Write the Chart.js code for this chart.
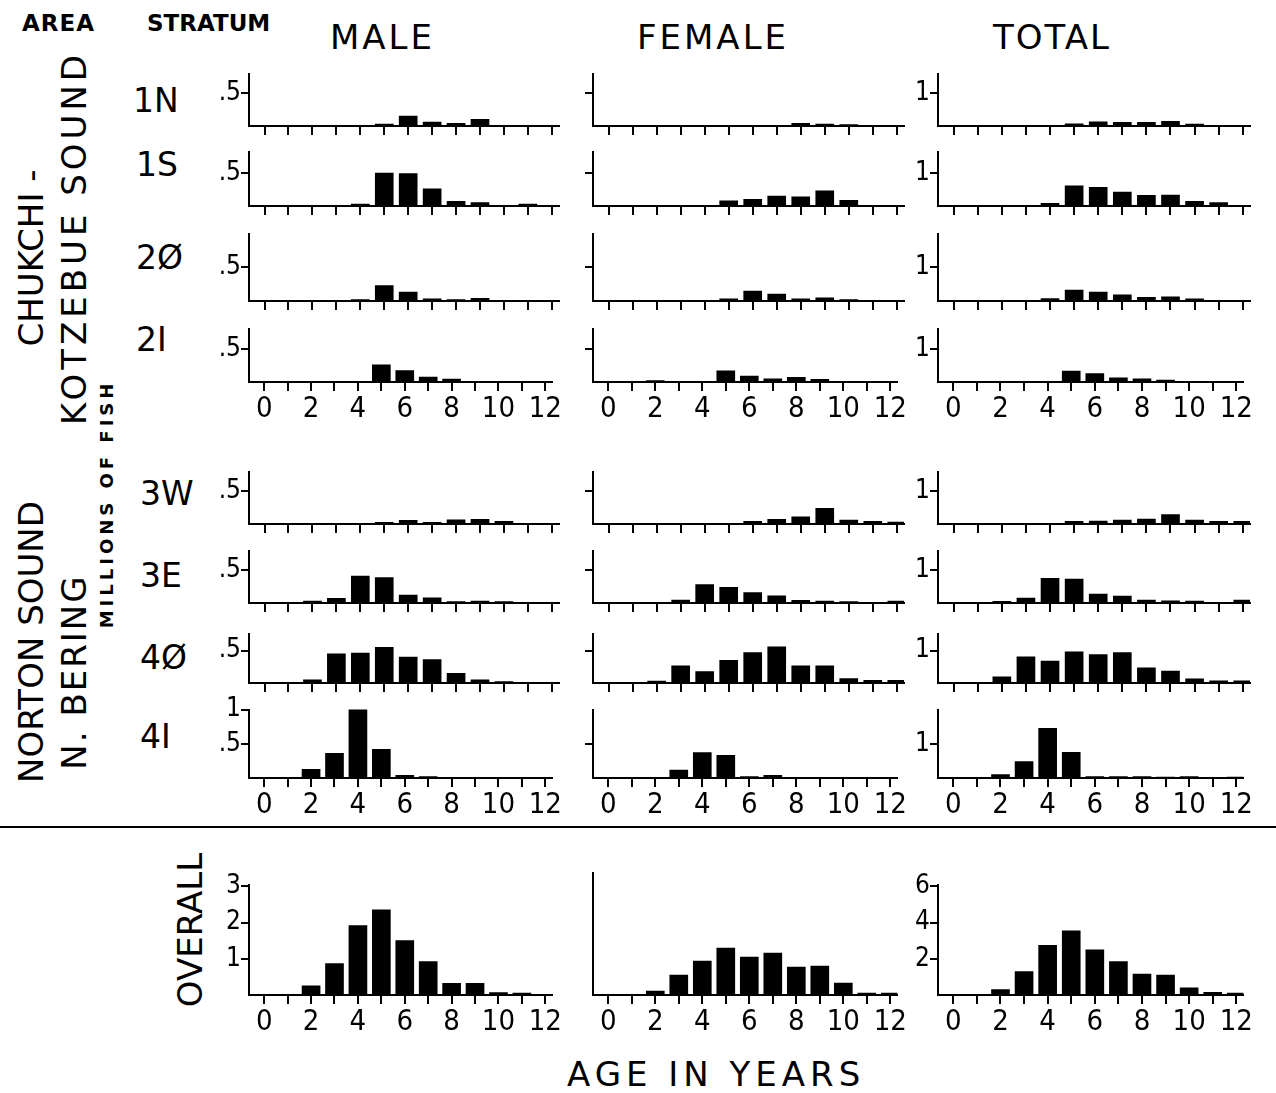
<!DOCTYPE html>
<html>
<head>
<meta charset="utf-8">
<script src="https://cdn.jsdelivr.net/npm/chart.js@4.4.0/dist/chart.umd.min.js"></script>
<style>
  body { margin: 0; background: #fff; width: 1276px; height: 1093px; position: relative; overflow: hidden;
         font-family: 'DejaVu Sans', sans-serif; color: #000; }
  .t { position: absolute; white-space: nowrap; line-height: 1; }
  .v { position: absolute; white-space: nowrap; line-height: 1; transform: translate(-50%, -50%) rotate(-90deg); }
  canvas { position: absolute; }
</style>
</head>
<body>

<div class="t" style="left:22px;top:12px;font-size:23px;font-weight:bold;letter-spacing:1px">AREA</div>
<div class="t" style="left:147px;top:12px;font-size:23px;font-weight:bold;letter-spacing:0px">STRATUM</div>
<div class="t" style="left:330px;top:20px;font-size:34px;letter-spacing:3px">MALE</div>
<div class="t" style="left:637px;top:20px;font-size:34px;letter-spacing:3px">FEMALE</div>
<div class="t" style="left:993px;top:20px;font-size:34px;letter-spacing:2px">TOTAL</div>

<div class="v" style="left:31px;top:258px;font-size:34px">CHUKCHI -</div>
<div class="v" style="left:74px;top:238px;font-size:34px;letter-spacing:4px">KOTZEBUE SOUND</div>
<div class="v" style="left:31px;top:642px;font-size:34px">NORTON SOUND</div>
<div class="v" style="left:74px;top:672px;font-size:34px;letter-spacing:2px">N. BERING</div>
<div class="v" style="left:107px;top:504px;font-size:18px;font-weight:bold;letter-spacing:4px">MILLIONS OF FISH</div>
<div class="v" style="left:190px;top:930px;font-size:34px">OVERALL</div>

<div style="position:absolute;left:0;top:826px;width:1276px;height:2px;background:#000"></div>
<div class="t" style="left:567px;top:1057px;font-size:34px;letter-spacing:5px">AGE IN YEARS</div>

<script>
// ages on the x axis
const ages = [0, 1, 2, 3, 4, 5, 6, 7, 8, 9, 10, 11, 12]

// millions of fish by age
// chukchi - kotzebue sound
const male1N   = [0, 0, 0, 0, 0, 0.03, 0.15, 0.06, 0.04, 0.10, 0, 0, 0.01]
const female1N = [0, 0, 0.01, 0, 0, 0, 0, 0, 0.04, 0.03, 0.02, 0, 0]
const total1N  = [0, 0, 0.01, 0, 0, 0.07, 0.13, 0.11, 0.11, 0.14, 0.06, 0.02, 0.01]

const male1S   = [0, 0, 0, 0, 0.03, 0.50, 0.49, 0.26, 0.07, 0.05, 0, 0.03, 0]
const female1S = [0, 0, 0, 0, 0, 0.08, 0.10, 0.15, 0.14, 0.23, 0.085, 0, 0]
const total1S  = [0, 0, 0, 0, 0.08, 0.61, 0.57, 0.42, 0.32, 0.33, 0.14, 0.10, 0]

const male2O   = [0, 0, 0, 0, 0.02, 0.225, 0.13, 0.03, 0.02, 0.04, 0, 0, 0]
const female2O = [0, 0, 0.01, 0, 0, 0.03, 0.145, 0.10, 0.03, 0.045, 0.02, 0, 0]
const total2O  = [0, 0, 0, 0, 0.07, 0.32, 0.26, 0.18, 0.11, 0.12, 0.06, 0, 0]

const male2I   = [0, 0, 0, 0, 0, 0.26, 0.175, 0.075, 0.045, 0, 0, 0, 0]
const female2I = [0, 0, 0.02, 0, 0, 0.17, 0.09, 0.05, 0.07, 0.04, 0, 0, 0]
const total2I  = [0, 0, 0, 0, 0, 0.33, 0.26, 0.13, 0.10, 0.06, 0, 0, 0]

// norton sound - n. bering
const male3W   = [0, 0, 0, 0, 0, 0.025, 0.055, 0.025, 0.065, 0.07, 0.04, 0, 0]
const female3W = [0, 0, 0.01, 0, 0, 0, 0.04, 0.07, 0.11, 0.24, 0.06, 0.04, 0.03]
const total3W  = [0, 0.01, 0, 0, 0, 0.08, 0.09, 0.12, 0.15, 0.29, 0.12, 0.08, 0.08]

const male3E   = [0, 0, 0.03, 0.07, 0.41, 0.39, 0.12, 0.08, 0.02, 0.03, 0.02, 0, 0]
const female3E = [0, 0, 0, 0.045, 0.28, 0.24, 0.16, 0.11, 0.04, 0.03, 0.02, 0, 0.03]
const total3E  = [0, 0, 0.05, 0.15, 0.75, 0.73, 0.27, 0.21, 0.09, 0.07, 0.06, 0, 0.09]

const male4O   = [0, 0, 0.05, 0.45, 0.46, 0.55, 0.40, 0.36, 0.15, 0.05, 0.02, 0, 0]
const female4O = [0, 0, 0.03, 0.265, 0.175, 0.35, 0.47, 0.56, 0.265, 0.265, 0.07, 0.04, 0.04]
const total4O  = [0, 0, 0.19, 0.81, 0.68, 0.96, 0.88, 0.94, 0.47, 0.37, 0.13, 0.07, 0.07]

const male4I   = [0, 0, 0.125, 0.36, 1.02, 0.42, 0.04, 0.02, 0.01, 0, 0, 0, 0]
const female4I = [0, 0, 0, 0.115, 0.37, 0.33, 0.02, 0.04, 0.01, 0.01, 0.01, 0, 0.01]
const total4I  = [0, 0, 0.10, 0.48, 1.45, 0.75, 0.04, 0.04, 0.04, 0.03, 0.04, 0.02, 0.03]

// overall
const maleAll   = [0, 0, 0.25, 0.87, 1.92, 2.35, 1.50, 0.92, 0.32, 0.32, 0.07, 0.05, 0]
const femaleAll = [0, 0, 0.10, 0.50, 0.85, 1.17, 0.95, 1.05, 0.70, 0.72, 0.30, 0.05, 0.05]
const totalAll  = [0, 0, 0.30, 1.30, 2.75, 3.55, 2.50, 1.85, 1.15, 1.10, 0.40, 0.15, 0.10]

const strata = ['1N', '1S', '2Ø', '2I', '3W', '3E', '4Ø', '4I']
const maleRows   = [male1N, male1S, male2O, male2I, male3W, male3E, male4O, male4I, maleAll]
const femaleRows = [female1N, female1S, female2O, female2I, female3W, female3E, female4O, female4I, femaleAll]
const totalRows  = [total1N, total1S, total2O, total2I, total3W, total3E, total4O, total4I, totalAll]

// y tick marks (value, label) per column, normal rows / 4I / overall
const maleTicks   = [[0.5, '.5']]
const maleTicks4I = [[0.5, '.5'], [1, '1']]
const maleTicksAll = [[1, '1'], [2, '2'], [3, '3']]
const femaleTicks = [[0.5, '']]
const femaleTicksAll = []
const totalTicks  = [[1, '1']]
const totalTicksAll = [[2, '2'], [4, '4'], [6, '6']]

// panel layout
const rowTop  = [62, 140, 222, 317, 460, 539, 622, 698, 873]
const rowBase = [126, 206, 301, 382, 524, 603, 683, 778, 995]
const stratY  = [101, 165, 258, 340, 494, 576, 658, 737]
const stratX  = [133, 136, 136, 136, 140, 140, 140, 140]
const colLeft  = [249, 593, 938]
const colRight = [559, 904, 1250]
const labelledRows = [3, 7, 8]

const FONT = "'DejaVu Sans Condensed', 'DejaVu Sans', sans-serif"
const YW = 46, PT = 4, PR = 4, XH = 42

function panel(col, row, values, ticks, pxPerUnit) {
  const w = YW + colRight[col] - colLeft[col] + PR
  const h = PT + rowBase[row] - rowTop[row] + XH
  const cv = document.createElement('canvas')
  cv.width = w
  cv.height = h
  cv.style.left = (colLeft[col] - YW) + 'px'
  cv.style.top = (rowTop[row] - PT) + 'px'
  cv.style.width = w + 'px'
  cv.style.height = h + 'px'
  document.body.appendChild(cv)

  const showX = labelledRows.includes(row)
  const yMax = (rowBase[row] - rowTop[row]) / pxPerUnit

  new Chart(cv, {
    type: 'bar',
    data: {
      datasets: [{
        data: ages.map((a, i) => ({ x: a, y: values[i] })),
        backgroundColor: '#000',
        borderWidth: 0,
        barThickness: 18
      }]
    },
    options: {
      responsive: false,
      animation: false,
      events: [],
      layout: { padding: { top: PT, right: PR, left: 0, bottom: 0 } },
      plugins: { legend: { display: false }, tooltip: { enabled: false } },
      scales: {
        x: {
          type: 'linear',
          min: -0.65,
          max: 12.3,
          offset: false,
          grid: { offset: false, drawOnChartArea: false, drawTicks: true, tickLength: 9, color: '#000', lineWidth: 2 },
          border: { display: true, color: '#000', width: 2 },
          afterBuildTicks: s => { s.ticks = ages.map(v => ({ value: v })) },
          afterFit: s => { s.height = XH },
          ticks: {
            autoSkip: false,
            maxRotation: 0,
            padding: 1,
            color: '#000',
            font: { family: FONT, size: 29 },
            callback: v => (showX && v % 2 === 0) ? String(v) : ''
          }
        },
        y: {
          min: 0,
          max: yMax,
          grid: { drawOnChartArea: false, drawTicks: true, tickLength: 8, color: '#000', lineWidth: 2 },
          border: { display: true, color: '#000', width: 2 },
          afterBuildTicks: s => { s.ticks = ticks.map(t => ({ value: t[0] })) },
          afterFit: s => { s.width = YW },
          ticks: {
            padding: 0,
            color: '#000',
            font: { family: FONT, size: 26 },
            callback: v => {
              const t = ticks.find(t => t[0] === v)
              return t ? t[1] : ''
            }
          }
        }
      }
    }
  })
}

for (let r = 0; r < 9; r++) {
  const all = r === 8
  panel(0, r, maleRows[r], all ? maleTicksAll : (r === 7 ? maleTicks4I : maleTicks), all ? 40 : 80)
  panel(1, r, femaleRows[r], all ? femaleTicksAll : femaleTicks, all ? 40 : 80)
  panel(2, r, totalRows[r], all ? totalTicksAll : totalTicks, all ? 20 : 40)
}

// stratum names
strata.forEach((s, i) => {
  const d = document.createElement('div')
  d.className = 't'
  d.style.left = stratX[i] + 'px'
  d.style.top = (stratY[i] - 17) + 'px'
  d.style.fontSize = '33px'
  d.textContent = s
  document.body.appendChild(d)
})
</script>
</body>
</html>
